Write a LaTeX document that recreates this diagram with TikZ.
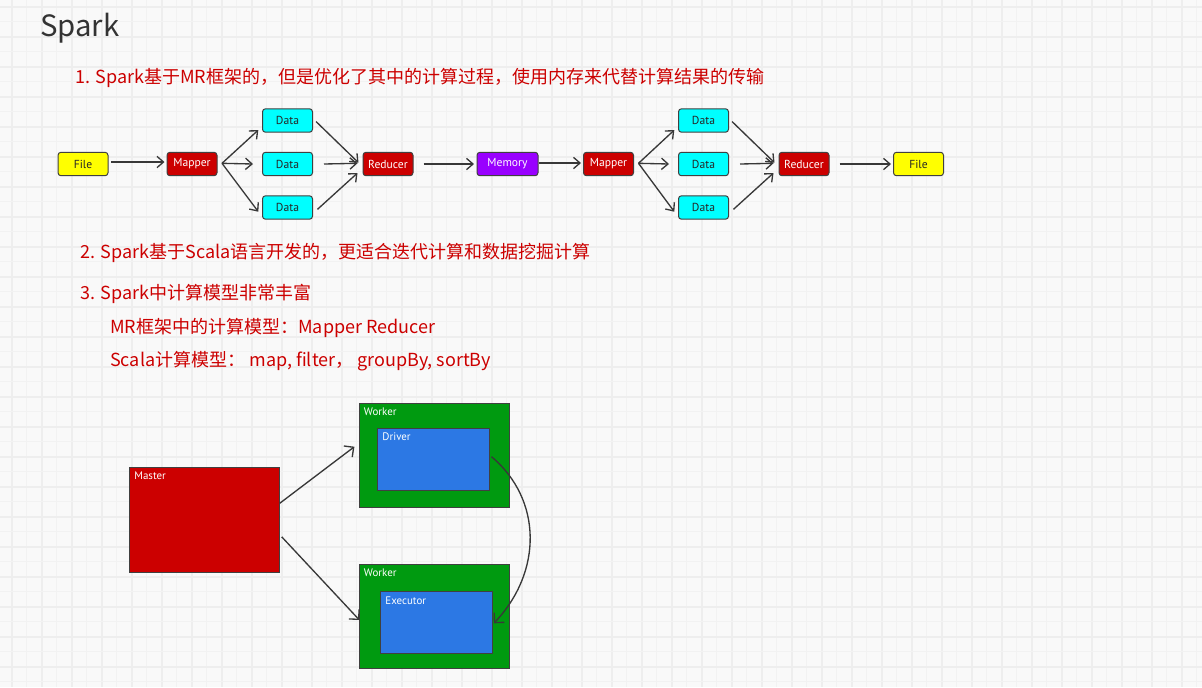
\documentclass[tikz,border=0pt]{standalone}
\usepackage{fontspec}
\newfontfamily\cjk{Noto Sans CJK SC}
\newfontfamily\lab{PT Sans}
\usetikzlibrary{arrows.meta,calc}
\definecolor{bgc}{HTML}{F9F9F9}
\definecolor{gridminor}{HTML}{F2F2F2}
\definecolor{gridmajor}{HTML}{EEEEEE}
\definecolor{redtxt}{HTML}{CC0000}
\definecolor{titlec}{HTML}{333333}
\definecolor{linec}{HTML}{383838}
\definecolor{bred}{HTML}{CC0000}
\definecolor{bpurple}{HTML}{9900FF}
\definecolor{bcyan}{HTML}{00FFFF}
\definecolor{byellow}{HTML}{FFFF00}
\definecolor{bgreen}{HTML}{009A10}
\definecolor{bblue}{HTML}{2C78E4}
\definecolor{bordc}{HTML}{404040}
\tikzset{
  flowbox/.style={draw=bordc, line width=0.75pt, rounded corners=2.25pt,
    minimum width=37.5pt, minimum height=17.6pt, inner sep=0pt,
    font=\lab\fontsize{8.7pt}{10pt}\selectfont},
  darkbox/.style={flowbox, fill=bred, text=white},
  filebox/.style={flowbox, fill=byellow, text=black!85},
  databox/.style={flowbox, fill=bcyan, text=black!85},
  membox/.style={flowbox, fill=bpurple, text=white, minimum width=45.75pt},
  arr/.style={draw=linec, line width=1pt, -{Straight Barb[length=4.9pt,width=8.5pt]}},
  bigarr/.style={draw=linec, line width=1pt, -{Straight Barb[length=5.3pt,width=10.5pt]}},
  mtext/.style={anchor=base west, inner sep=0pt, text=redtxt,
    font=\cjk\fontsize{13.5pt}{16pt}\selectfont},
  bigbox/.style={draw=bordc, line width=0.75pt, inner sep=0pt,
    minimum width=112.5pt, minimum height=78pt},
  innerbox/.style={draw=bordc, line width=0.75pt, inner sep=0pt, fill=bblue,
    minimum width=84pt, minimum height=46.5pt},
  boxlabel/.style={anchor=west, inner sep=0pt, text=white,
    font=\lab\fontsize{8.2pt}{10pt}\selectfont},
}
\begin{document}
\begin{tikzpicture}[x=0.75pt,y=-0.75pt]
\useasboundingbox (0,0) rectangle (1202,687);
% background grid
\fill[bgc] (0,0) rectangle (1202,687);
\foreach \k in {0,...,79} {
  \pgfmathsetmacro\xx{11.7+15*\k}
  \ifodd\k
    \draw[gridminor, line width=0.75pt] (\xx,0) -- (\xx,687);
  \else
    \draw[gridmajor, line width=1.5pt] (\xx,0) -- (\xx,687);
  \fi
}
\foreach \k in {0,...,45} {
  \pgfmathsetmacro\yy{6.7+15*\k}
  \ifodd\k
    \draw[gridminor, line width=0.75pt] (0,\yy) -- (1202,\yy);
  \else
    \draw[gridmajor, line width=1.5pt] (0,\yy) -- (1202,\yy);
  \fi
}

% texts
\node[anchor=base west, inner sep=0pt, text=titlec, font=\cjk\fontsize{22pt}{26pt}\selectfont] (title) at (40,36) {Spark};
\node[mtext] (t1) at (75,83) {1. Spark基于MR框架的，但是优化了其中的计算过程，使用内存来代替计算结果的传输};
\node[mtext] (t2) at (80,258.5) {2. Spark基于Scala语言开发的，更适合迭代计算和数据挖掘计算};
\node[mtext] (t3) at (80,299) {3. Spark中计算模型非常丰富};
\node[mtext] (t4) at (110,333.3) {MR框架中的计算模型：Mapper Reducer};
\node[mtext] (t5) at (110,366.7) {Scala计算模型：\ map, filter，\ groupBy, sortBy};

% top flow
\node[filebox] (f1) at (83,164) {File};
\node[darkbox] (m1) at (192,164) {Mapper};
\node[databox] (d1a) at (287.5,120.5) {Data};
\node[databox] (d1b) at (287.5,164) {Data};
\node[databox] (d1c) at (287.5,207.5) {Data};
\node[darkbox] (r1) at (388,164) {Reducer};
\node[membox] (mem) at (507.5,164) {Memory};
\node[darkbox] (m2) at (608.5,164) {Mapper};
\node[databox] (d2a) at (703.5,120.5) {Data};
\node[databox] (d2b) at (703.5,164) {Data};
\node[databox] (d2c) at (703.5,207.5) {Data};
\node[darkbox] (r2) at (804,164) {Reducer};
\node[filebox] (f2) at (918.5,164) {File};

\draw[arr] ($(f1.east)+(2.5,-2)$) -- ($(m1.west)+(-2,-2)$);
\draw[arr] ($(m1.east)+(4.5,-0.7)$) -- ($(d1a.south west)+(-3.7,-2.7)$);
\draw[arr] ($(m1.east)+(4.5,-0.7)$) -- ($(d1b.west)+(-9,0)$);
\draw[arr] ($(m1.east)+(4.5,-0.7)$) -- ($(d1c.west)+(-3.7,4.2)$);
\draw[arr] ($(d1a.east)+(3,1)$) -- ($(r1.west)+(-4,-1.3)$);
\draw[arr] ($(d1b.east)+(11,0)$) -- ($(r1.west)+(-5,-0.7)$);
\draw[arr] ($(d1c.east)+(4.5,1.8)$) -- ($(r1.west)+(-5,9)$);
\draw[arr] ($(r1.east)+(10,0)$) -- ($(mem.west)+(-2.5,0)$);
\draw[arr] ($(mem.east)+(0,-1)$) -- ($(m2.west)+(-2,-1)$);
\draw[arr] ($(m2.east)+(4.5,-0.7)$) -- ($(d2a.south west)+(-3.7,-2.7)$);
\draw[arr] ($(m2.east)+(4.5,-0.7)$) -- ($(d2b.west)+(-9,0)$);
\draw[arr] ($(m2.east)+(4.5,-0.7)$) -- ($(d2c.west)+(-3.7,4.2)$);
\draw[arr] ($(d2a.east)+(3,1)$) -- ($(r2.west)+(-4,-1.3)$);
\draw[arr] ($(d2b.east)+(11,0)$) -- ($(r2.west)+(-5,-0.7)$);
\draw[arr] ($(d2c.east)+(4.5,1.8)$) -- ($(r2.west)+(-5,9)$);
\draw[arr] ($(r2.east)+(10,0)$) -- ($(f2.west)+(-2,0)$);

% bottom diagram
\node[bigbox, fill=bred, minimum height=78.75pt] (master) at (204.2,519.8) {};
\node[boxlabel] (masterl) at ($(master.north west)+(5.4,9.4)$) {Master};
\node[bigbox, fill=bgreen] (w1) at (434.2,455.3) {};
\node[boxlabel] (w1l) at ($(w1.north west)+(5,9.4)$) {Worker};
\node[innerbox] (drv) at (433.3,459.2) {};
\node[boxlabel] (drvl) at ($(drv.north west)+(5.4,9)$) {Driver};
\node[bigbox, fill=bgreen] (w2) at (434.2,616.2) {};
\node[boxlabel] (w2l) at ($(w2.north west)+(5,9.3)$) {Worker};
\node[innerbox] (exe) at (436.7,622.2) {};
\node[boxlabel] (exel) at ($(exe.north west)+(5,9.7)$) {Executor};

\draw[bigarr] ($(master.east)+(0,-16.5)$) -- ($(w1.west)+(-4.3,-8.6)$);
\draw[bigarr] ($(master.east)+(2,17)$) -- ($(w2.west)+(0.7,3.8)$);
\draw[bigarr] ($(drv.east)+(1.7,-2.5)$) .. controls +(51,43) and +(48.7,-51.3) .. ($(exe.east)+(0.6,1.1)$);
\end{tikzpicture}
\end{document}
